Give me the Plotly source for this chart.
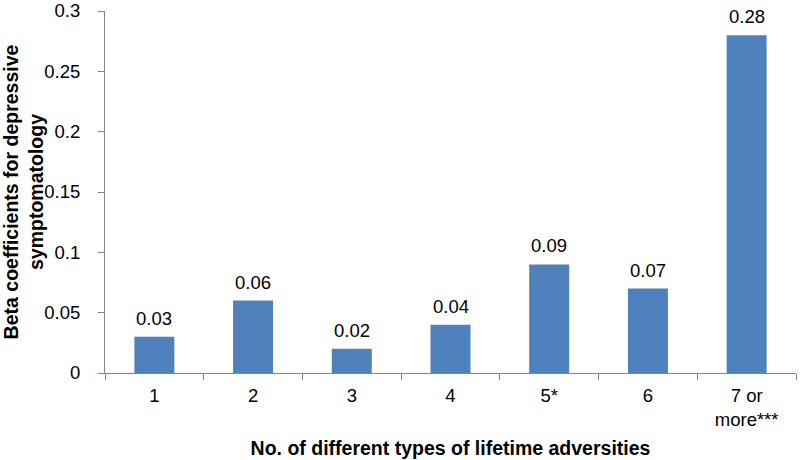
import plotly.graph_objects as go

categories = ["1", "2", "3", "4", "5*", "6", "7 or<br>more***"]
values = [0.03, 0.06, 0.02, 0.04, 0.09, 0.07, 0.28]
value_labels = ["0.03", "0.06", "0.02", "0.04", "0.09", "0.07", "0.28"]
y_ticks = [0, 0.05, 0.1, 0.15, 0.2, 0.25, 0.3]
y_tick_labels = ["0", "0.05", "0.1", "0.15", "0.2", "0.25", "0.3"]

font_family = "Liberation Sans, Arial, sans-serif"

fig = go.Figure(go.Bar(
    x=categories, y=values,
    marker=dict(color="#4F81BD", line=dict(width=0)),
    hoverinfo="x+y",
))

for i, (val, lab) in enumerate(zip(values, value_labels)):
    fig.add_annotation(
        x=i, y=val, text=lab, showarrow=False,
        xanchor="center", yanchor="bottom", yshift=6,
        font=dict(size=18.5, color="#000000", family=font_family),
    )

fig.update_layout(
    width=800, height=460,
    margin=dict(l=105, r=4, t=11, b=87),
    paper_bgcolor="white", plot_bgcolor="white",
    bargap=0.595,
    showlegend=False,
    font=dict(family=font_family, size=18, color="#000000"),
)
fig.update_xaxes(
    type="category", automargin=False,
    showline=True, linecolor="#868686", linewidth=1,
    ticks="outside", tickson="boundaries", ticklen=6, tickcolor="#868686",
    tickfont=dict(size=18.5), ticklabelstandoff=6,
    title=dict(text="<b>No. of different types of lifetime adversities</b>",
               font=dict(size=19.5), standoff=12),
)
fig.update_yaxes(
    range=[0, 0.3], tickvals=y_ticks, ticktext=y_tick_labels, automargin=False,
    showline=True, linecolor="#868686", linewidth=1,
    ticks="outside", ticklen=6, tickcolor="#868686",
    showgrid=False, zeroline=False,
    tickfont=dict(size=18.5), ticklabelposition="outside", ticklabelstandoff=14,
    title=dict(text="<b>Beta coefficients for depressive<br>symptomatology</b>",
               font=dict(size=19.5), standoff=0),
)

fig.write_html("out.html", config={"displayModeBar": False},
               post_script="document.body.style.margin='0';")
